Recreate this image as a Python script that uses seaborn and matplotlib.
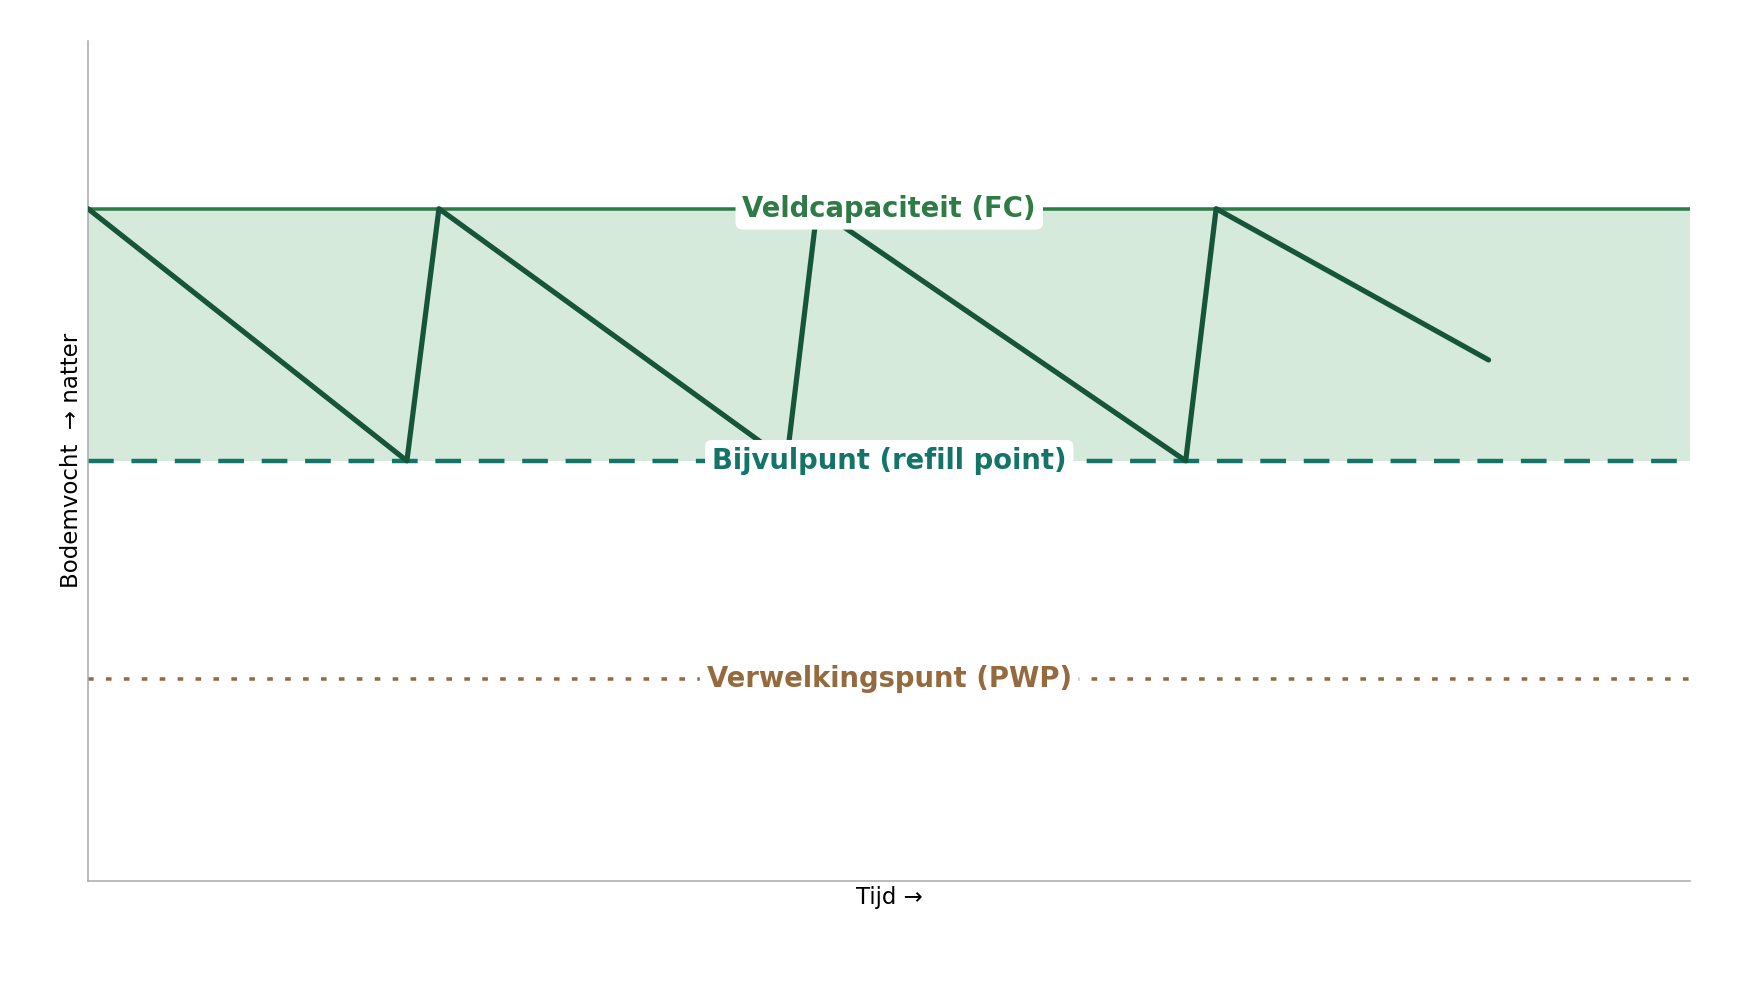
import numpy as np
import pandas as pd
import matplotlib
matplotlib.use("Agg")
import matplotlib.pyplot as plt
import seaborn as sns

# soil moisture levels (relative units)
fc_level = 80
refill_level = 50
pwp_level = 24

# sawtooth path: drying down to refill point, then irrigation back to FC
time_pts = [0, 19.9, 21.9, 43.6, 45.5, 68.5, 70.4, 87.4]
moisture_pts = [80, 50, 80, 50, 80, 50, 80, 62]

fc_label = "Veldcapaciteit (FC)"
refill_label = "Bijvulpunt (refill point)"
pwp_label = "Verwelkingspunt (PWP)"

# colours
c_fill = "#d5eadb"
c_fc = "#2e7b46"
c_line = "#17553a"
c_refill = "#157468"
c_pwp = "#956a3e"

sns.set_theme(style="white")
plt.rcParams['font.family'] = ['DejaVu Sans']

fig, ax = plt.subplots(figsize=(16, 9), dpi=110)
fig.subplots_adjust(left=0.05, right=0.9605, top=0.959, bottom=0.11)

x_min, x_max = 0, 100

# band between refill point and field capacity
ax.fill_between([x_min, x_max], refill_level, fc_level, color=c_fill, lw=0, zorder=1)

ax.axhline(fc_level, color=c_fc, lw=2.3, zorder=2)
ax.axhline(refill_level, color=c_refill, lw=2.9, dashes=(5.8, 4.0), zorder=2)
ax.axhline(pwp_level, color=c_pwp, lw=2.3, dashes=(1.6, 3.5), zorder=2)

df = pd.DataFrame({"Tijd": time_pts, "Bodemvocht": moisture_pts})
sns.lineplot(data=df, x="Tijd", y="Bodemvocht", sort=False, color=c_line,
             lw=3.4, ax=ax, zorder=3, solid_joinstyle="round",
             solid_capstyle="round")

box = dict(boxstyle="round,pad=0.25", fc="white", ec="none")
for label, level, col in [(fc_label, fc_level, c_fc),
                          (refill_label, refill_level, c_refill),
                          (pwp_label, pwp_level, c_pwp)]:
    ax.text((x_min + x_max) / 2, level, label, ha="center", va="center",
            fontsize=18, fontweight="bold", color=col, bbox=box, zorder=5)

ax.set_xlim(x_min, x_max)
ax.set_ylim(0, 100)
ax.set_xticks([])
ax.set_yticks([])
ax.set_xlabel("Tijd →", fontsize=15, color="black", labelpad=3)
ax.set_ylabel("Bodemvocht  → natter", fontsize=15, color="black", labelpad=3)

sns.despine(ax=ax)
for side in ["left", "bottom"]:
    ax.spines[side].set_color("#aaaaaa")
    ax.spines[side].set_linewidth(1.0)

plt.savefig("out.png", dpi=110)
